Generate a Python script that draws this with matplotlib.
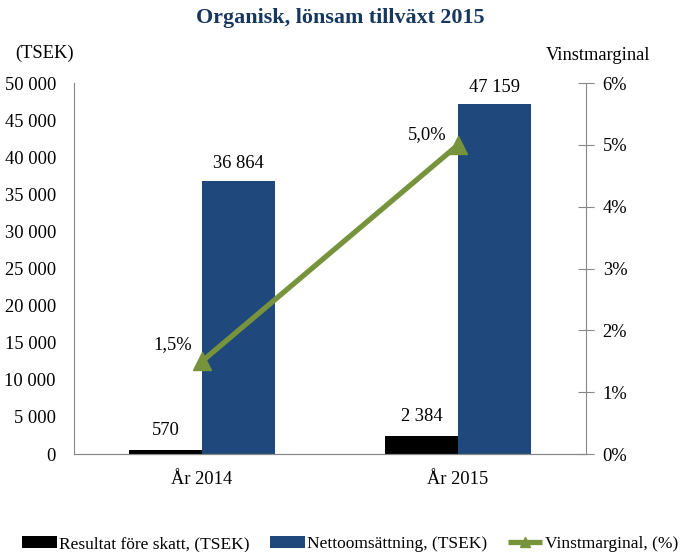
import matplotlib
matplotlib.use('Agg')
import matplotlib.pyplot as plt
import numpy as np

plt.rcParams['font.family'] = ['Liberation Serif', 'DejaVu Serif']
plt.rcParams['font.size'] = 13.3

years = ['År 2014', 'År 2015']
resultat = [570, 2384]
netto = [36864, 47159]
marginal = [1.5, 5.0]
res_labels = ['570', '2 384']
netto_labels = ['36 864', '47 159']
marg_labels = ['1,5%', '5,0%']
left_ticks = np.arange(0, 50001, 5000)
right_ticks = np.arange(0, 7, 1)

black = '#000000'
blue = '#1F497D'
green = '#77933C'

fig = plt.figure(figsize=(6.81, 5.52), dpi=100)
ax = fig.add_axes([0.1087, 0.1775, 0.7518, 0.672])
ax2 = ax.twinx()

x = np.arange(len(years))
w = 0.285
b1 = ax.bar(x - w / 2, resultat, w, color=black, label='Resultat före skatt, (TSEK)')
b2 = ax.bar(x + w / 2, netto, w, color=blue, label='Nettoomsättning, (TSEK)')
for xi, v, t in zip(x, resultat, res_labels):
    ax.annotate(t, (xi - w / 2, v), xytext=(0, 8), textcoords='offset points',
                ha='center', va='bottom')
for xi, v, t in zip(x, netto, netto_labels):
    ax.annotate(t, (xi + w / 2, v), xytext=(0, 6), textcoords='offset points',
                ha='center', va='bottom')

ln, = ax2.plot(x, marginal, color=green, lw=3.8, marker='^', markersize=13,
               label='Vinstmarginal, (%)', solid_capstyle='butt')
for xi, v, t, off in zip(x, marginal, marg_labels, [(-21, 6), (-22, 1)]):
    ax2.annotate(t, (xi, v), xytext=off, textcoords='offset points',
                 ha='center', va='bottom')

ax.set_xlim(-0.5, 1.5)
ax.set_ylim(0, 50000)
ax.set_yticks(left_ticks)
ax.set_yticklabels([f'{v:,}'.replace(',', ' ') for v in left_ticks])
ax.set_xticks(x)
ax.set_xticklabels(years)
ax.tick_params(axis='x', length=0, pad=12)
ax.tick_params(axis='y', length=0, pad=13)

ax2.set_ylim(0, 6)
ax2.set_yticks(right_ticks)
ax2.set_yticklabels([f'{v}%' for v in right_ticks])
ax2.tick_params(axis='y', direction='inout', length=12, color='#888888', pad=6)

for a in (ax, ax2):
    a.spines['top'].set_visible(False)
    for s in ('left', 'right', 'bottom'):
        a.spines[s].set_color('#888888')
ax2.spines['left'].set_visible(False)
ax.spines['right'].set_visible(False)

fig.text(0.5, 0.967, 'Organisk, lönsam tillväxt 2015', ha='center', va='center',
         fontsize=15.8, fontweight='bold', color='#17375E')
fig.text(0.022, 0.904, '(TSEK)', ha='left', va='center')
fig.text(0.955, 0.90, 'Vinstmarginal', ha='right', va='center')

fig.legend([b1, b2, ln], [b1.get_label(), b2.get_label(), ln.get_label()],
           loc='lower left', bbox_to_anchor=(0.032, 0.0), ncol=3, frameon=False,
           borderpad=0, borderaxespad=0, fontsize=12.5, markerscale=0.55,
           handlelength=2.0, handletextpad=0.12, columnspacing=1.2)

fig.savefig('out.png', dpi=100)
